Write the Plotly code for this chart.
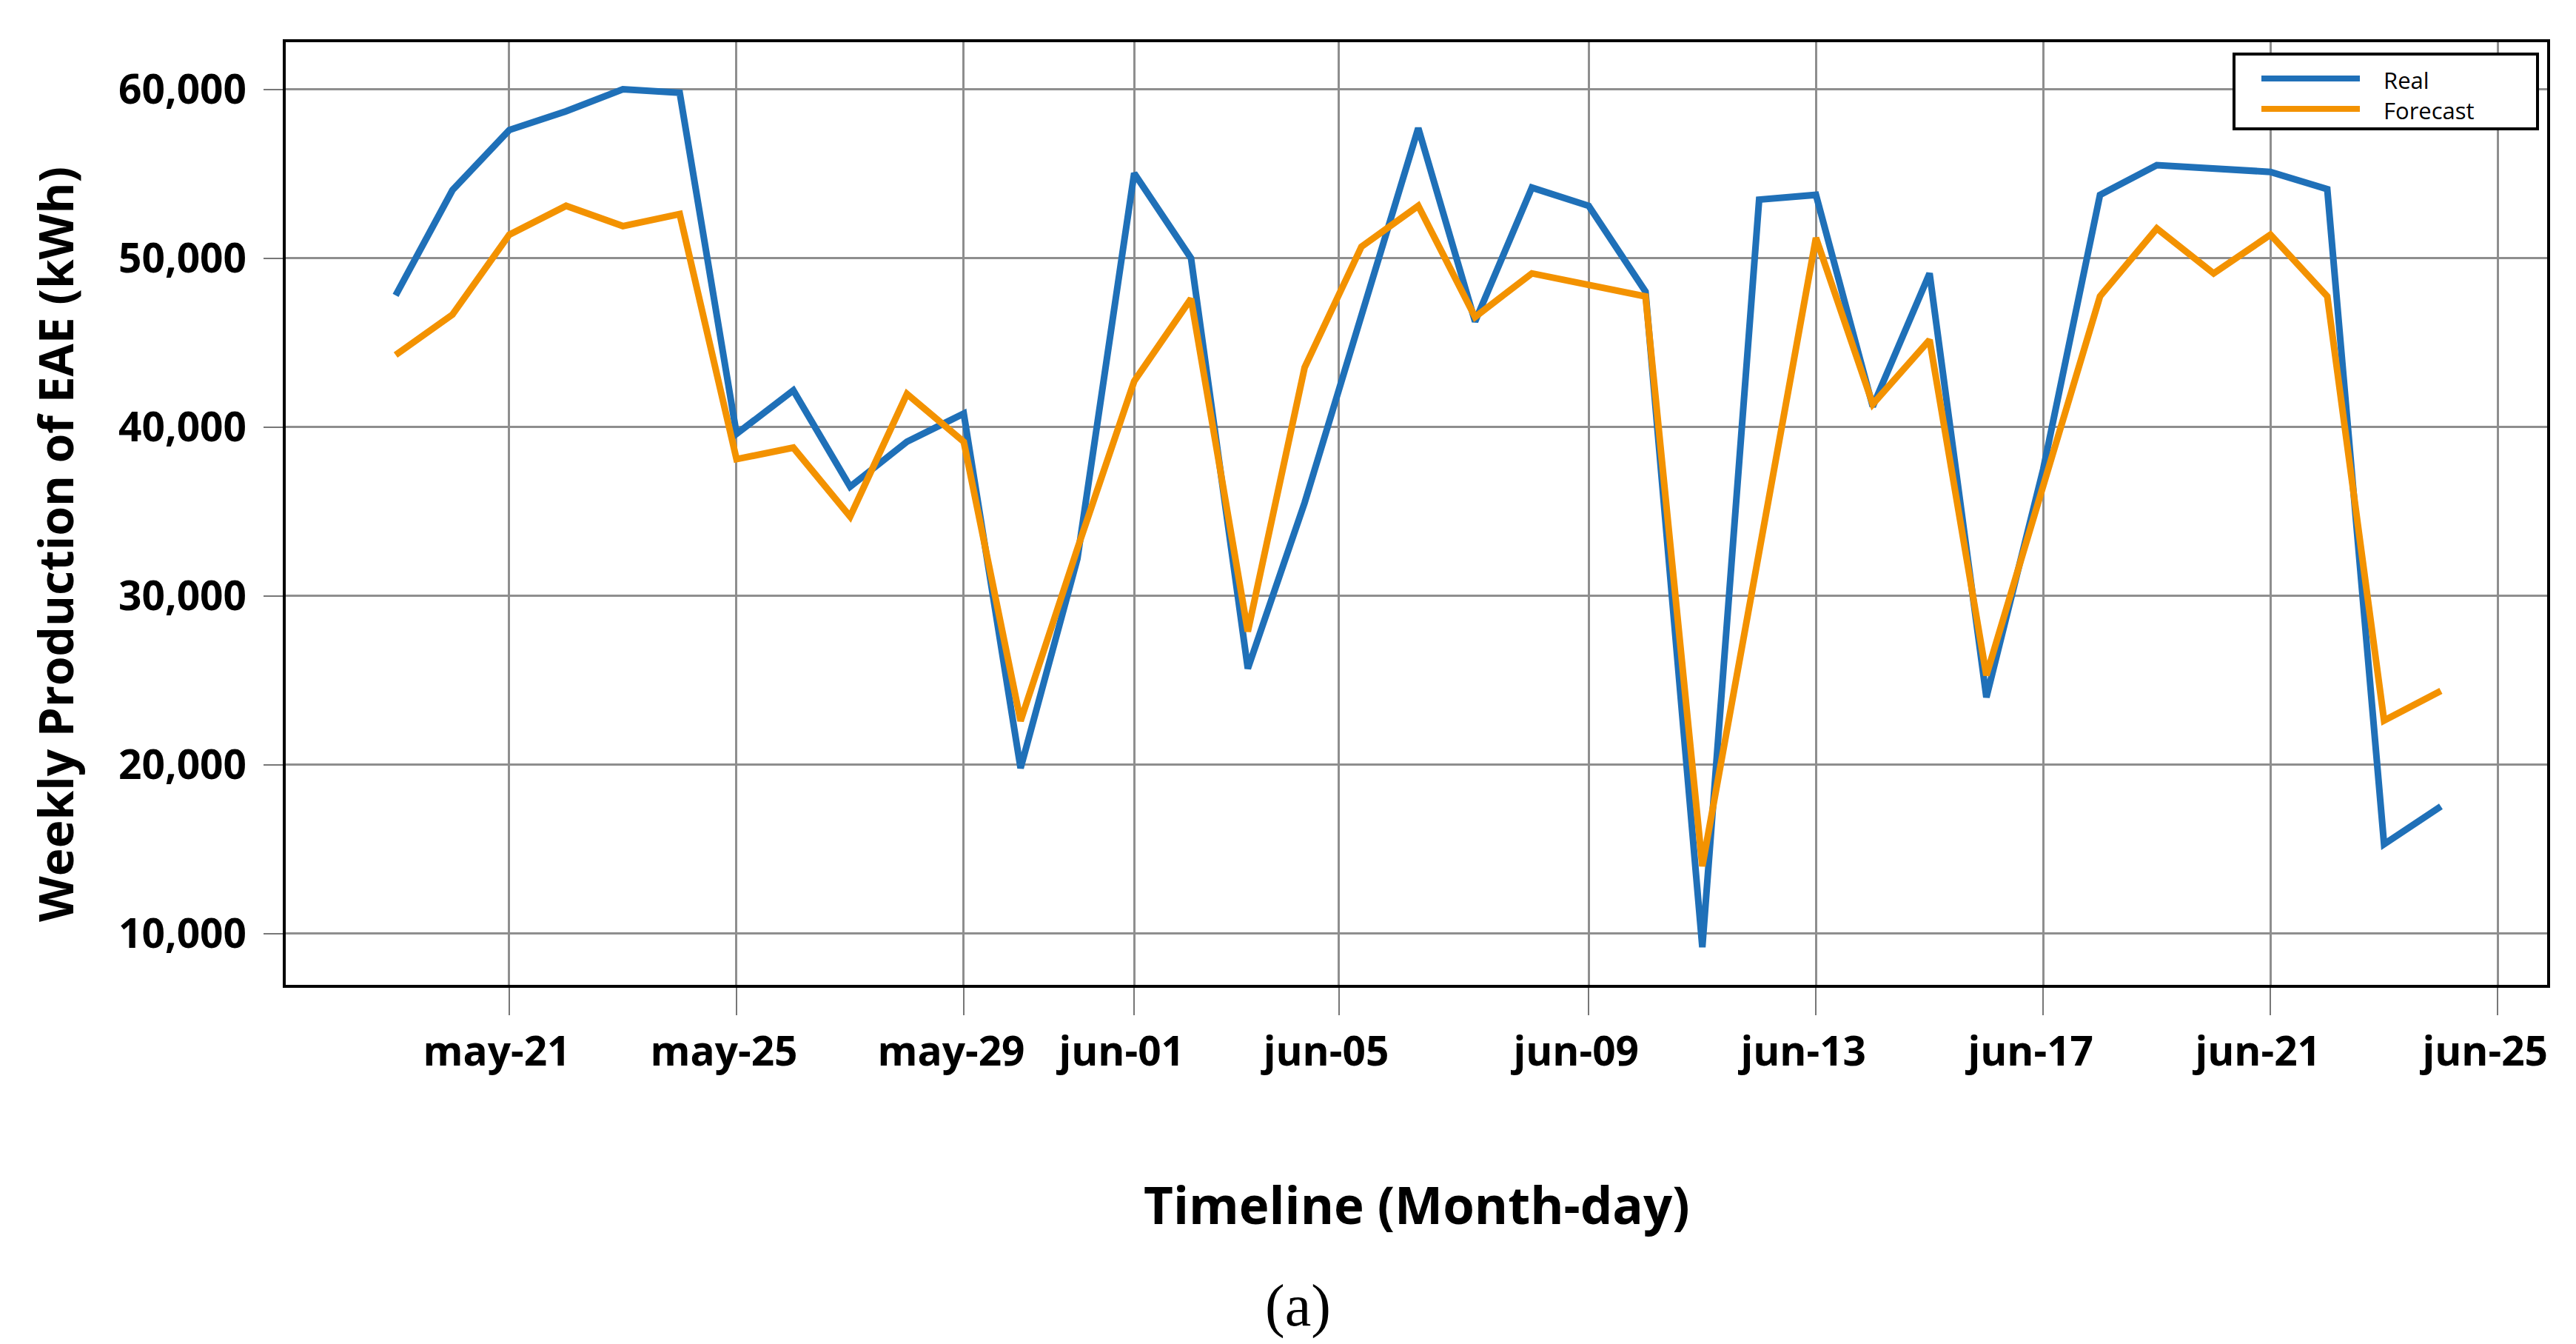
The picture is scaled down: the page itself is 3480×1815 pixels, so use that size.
import pandas as pd
import plotly.graph_objects as go

# ---- data ----
dates = pd.date_range("2021-05-19", "2021-06-24", freq="D")
real = [47800, 54030, 57590, 58700, 60000, 59800, 39600, 42170, 36470, 39130,
        40800, 19800, 32200, 55030, 50000, 25700, 35520, 46500, 57700, 46250,
        54180, 53100, 48020, 9200, 53470, 53750, 41220, 49100, 24000, 37500,
        53750, 55510, 55300, 55110, 54090, 15300, 17540]
forecast = [44270, 46660, 51390, 53100, 51900, 52610, 38100, 38780, 34700, 41960,
            39130, 22600, 32800, 42720, 47600, 27900, 43530, 50680, 53100, 46520,
            49100, 48420, 47740, 14000, 32530, 51200, 41360, 45160, 25300, 36500,
            47740, 51760, 49100, 51390, 47740, 22620, 24380]
series_names = ["Real", "Forecast"]
series_colors = ["#1f70b8", "#f39200"]

tick_dates = ["2021-05-21", "2021-05-25", "2021-05-29", "2021-06-01",
              "2021-06-04 14:24", "2021-06-09", "2021-06-13", "2021-06-17",
              "2021-06-21", "2021-06-25"]
tick_labels = ["may-21", "may-25", "may-29", "jun-01", "jun-05", "jun-09",
               "jun-13", "jun-17", "jun-21", "jun-25"]
y_ticks = [10000, 20000, 30000, 40000, 50000, 60000]
x_range = ["2021-05-17 01:34", "2021-06-25 20:53"]
y_range = [6970, 62790]

W, H = 3480, 1815
L, R, T, B = 378, 47, 49, 493
PW, PH = W - L - R, H - T - B


def px(x):
    return (x - L) / PW


def py(y):
    return 1 - (y - T) / PH


fig = go.Figure()
for name, vals, col in zip(series_names, [real, forecast], series_colors):
    fig.add_trace(go.Scatter(x=dates, y=vals, mode="lines", name=name,
                             line=dict(color=col, width=9),
                             showlegend=False))

grid_col = "#8e8e8e"
fig.update_layout(
    width=W, height=H,
    margin=dict(l=L, r=R, t=T, b=B, pad=0),
    paper_bgcolor="white", plot_bgcolor="white",
    font=dict(family="Open Sans", color="black"),
    xaxis=dict(type="date", range=x_range, tickvals=tick_dates, ticktext=tick_labels,
               showgrid=True, gridcolor=grid_col, gridwidth=3,
               ticks="outside", ticklen=37, tickwidth=1.5, tickcolor="#777777",
               showline=True, linecolor="black", linewidth=4, mirror=True,
               zeroline=False, ticklabelshift=-17, ticklabelstandoff=2,
               tickfont=dict(family="Open Sans", size=55, weight="bold", color="black")),
    yaxis=dict(range=y_range, tickvals=y_ticks, tickformat=",d",
               showgrid=True, gridcolor=grid_col, gridwidth=3,
               ticks="outside", ticklen=26, tickwidth=1.5, tickcolor="#777777",
               showline=True, linecolor="black", linewidth=4, mirror=True,
               zeroline=False, ticklabelstandoff=12,
               tickfont=dict(family="Open Sans", size=55, weight="bold", color="black")),
)

annotations = [
    dict(text="Weekly Production of EAE (kWh)", xref="paper", yref="paper",
         x=px(67), y=py(727), textangle=-90, showarrow=False,
         xanchor="center", yanchor="middle",
         font=dict(family="Open Sans", size=64, weight="bold", color="black")),
    dict(text="Timeline (Month-day)", xref="paper", yref="paper",
         x=px(1906), y=py(1618), showarrow=False,
         xanchor="center", yanchor="middle",
         font=dict(family="Open Sans", size=69, weight="bold", color="black")),
    dict(text="(a)", xref="paper", yref="paper",
         x=px(1745), y=py(1755), showarrow=False,
         xanchor="center", yanchor="middle",
         font=dict(family="Liberation Serif", size=80, color="black")),
]

# legend (drawn box with sample lines)
shapes = [
    dict(type="rect", xref="paper", yref="paper",
         x0=px(3010), x1=px(3420), y0=py(166), y1=py(65),
         line=dict(color="black", width=4), fillcolor="white", layer="above"),
]
leg_y = [98, 139]
for name, col, yy in zip(series_names, series_colors, leg_y):
    shapes.append(dict(type="line", xref="paper", yref="paper",
                       x0=px(3047), x1=px(3180), y0=py(yy), y1=py(yy),
                       line=dict(color=col, width=8), layer="above"))
    annotations.append(dict(text=name, xref="paper", yref="paper",
                            x=px(3210), y=py(yy + 2), showarrow=False,
                            xanchor="left", yanchor="middle",
                            font=dict(family="Open Sans", size=31, color="black")))

fig.update_layout(shapes=shapes, annotations=annotations)
fig.write_html("out.html")
